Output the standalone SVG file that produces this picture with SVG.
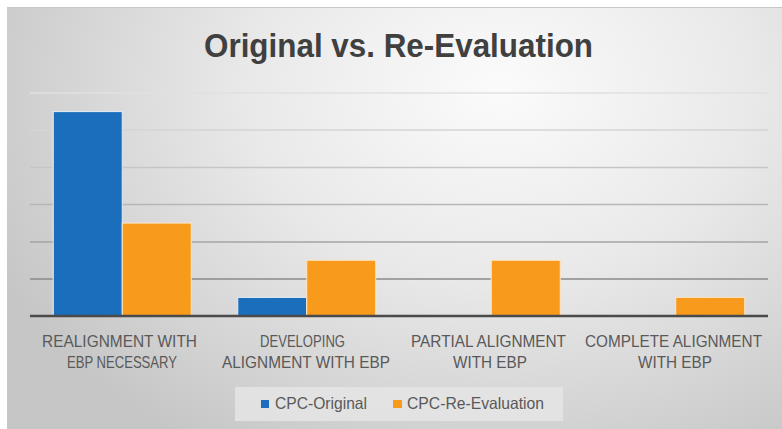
<svg xmlns="http://www.w3.org/2000/svg" width="782" height="429" viewBox="0 0 782 429">
  <defs>
    <radialGradient id="bg" gradientUnits="userSpaceOnUse" cx="500" cy="90" r="560" gradientTransform="translate(500 90) scale(1 0.75) translate(-500 -90)">
      <stop offset="0" stop-color="#fbfbfb"/>
      <stop offset="0.45" stop-color="#e9e9e9"/>
      <stop offset="1" stop-color="#c6c6c6"/>
    </radialGradient>
  </defs>
  <style>
    .title { font-family: "Liberation Sans", Arial, sans-serif; font-weight: bold; font-size: 33px; fill: #404040; }
    .cat { font-family: "Liberation Sans", Arial, sans-serif; font-size: 17px; fill: #595959; text-anchor: middle; }
    .leg { font-family: "Liberation Sans", Arial, sans-serif; font-size: 16.5px; fill: #595959; }
    .blue { fill: #1a6ebc; stroke: #e8eef6; stroke-width: 1; }
    .orange { fill: #f89a1c; stroke: #fbe6c8; stroke-width: 1; }
    .grid { stroke-width: 1.5; fill: none; }
  </style>
  <rect x="0" y="0" width="782" height="429" fill="#ffffff"/>
  <rect x="7" y="7" width="775" height="422" fill="url(#bg)"/>
  <line x1="7" y1="7.5" x2="782" y2="7.5" stroke="#c8c8c8" stroke-width="1"/>

  <g id="title">
    <text class="title" x="204" y="57" textLength="389" lengthAdjust="spacingAndGlyphs">Original vs. Re-Evaluation</text>
  </g>

  <g id="gridlines">
    <line class="grid" x1="30" y1="93" x2="768" y2="93" stroke="#e0e0e0"/>
    <line class="grid" x1="30" y1="130" x2="768" y2="130" stroke="#d4d4d4"/>
    <line class="grid" x1="30" y1="167.5" x2="768" y2="167.5" stroke="#c6c6c6"/>
    <line class="grid" x1="30" y1="204.5" x2="768" y2="204.5" stroke="#b6b6b6"/>
    <line class="grid" x1="30" y1="242" x2="768" y2="242" stroke="#a4a4a4"/>
    <line class="grid" x1="30" y1="279" x2="768" y2="279" stroke="#8a8a8a"/>
  </g>

  <g id="bars">
    <g id="bar-realign-original"><rect class="blue" x="53.25" y="111.6" width="69" height="204.4"/></g>
    <g id="bar-realign-reeval"><rect class="orange" x="122.25" y="223.1" width="69" height="92.9"/></g>
    <g id="bar-developing-original"><rect class="blue" x="237.75" y="297.4" width="69" height="18.6"/></g>
    <g id="bar-developing-reeval"><rect class="orange" x="306.75" y="260.25" width="69" height="55.75"/></g>
    <g id="bar-partial-reeval"><rect class="orange" x="491.25" y="260.25" width="69" height="55.75"/></g>
    <g id="bar-complete-reeval"><rect class="orange" x="675.75" y="297.4" width="69" height="18.6"/></g>
  </g>

  <g id="axis">
    <line x1="30" y1="316" x2="768" y2="316" stroke="#4a4a4a" stroke-width="2.5"/>
  </g>

  <g id="category-labels">
    <text class="cat" x="119.5" y="347" textLength="155" lengthAdjust="spacingAndGlyphs">REALIGNMENT WITH</text>
    <text class="cat" x="122" y="368" textLength="110" lengthAdjust="spacingAndGlyphs">EBP NECESSARY</text>
    <text class="cat" x="302.5" y="347" textLength="85" lengthAdjust="spacingAndGlyphs">DEVELOPING</text>
    <text class="cat" x="306" y="368" textLength="168" lengthAdjust="spacingAndGlyphs">ALIGNMENT WITH EBP</text>
    <text class="cat" x="488.5" y="347" textLength="155" lengthAdjust="spacingAndGlyphs">PARTIAL ALIGNMENT</text>
    <text class="cat" x="490" y="368" textLength="74" lengthAdjust="spacingAndGlyphs">WITH EBP</text>
    <text class="cat" x="673.5" y="347" textLength="177" lengthAdjust="spacingAndGlyphs">COMPLETE ALIGNMENT</text>
    <text class="cat" x="675" y="368" textLength="74" lengthAdjust="spacingAndGlyphs">WITH EBP</text>
  </g>

  <g id="legend">
    <rect x="235" y="387" width="328" height="34" fill="#e6e6e6" fill-opacity="0.8"/>
    <rect x="261" y="400" width="8" height="8" fill="#1a6ebc"/>
    <text class="leg" x="275" y="409" textLength="92" lengthAdjust="spacingAndGlyphs">CPC-Original</text>
    <rect x="393" y="400" width="9" height="8" fill="#f89a1c"/>
    <text class="leg" x="407" y="409" textLength="137" lengthAdjust="spacingAndGlyphs">CPC-Re-Evaluation</text>
  </g>
</svg>
